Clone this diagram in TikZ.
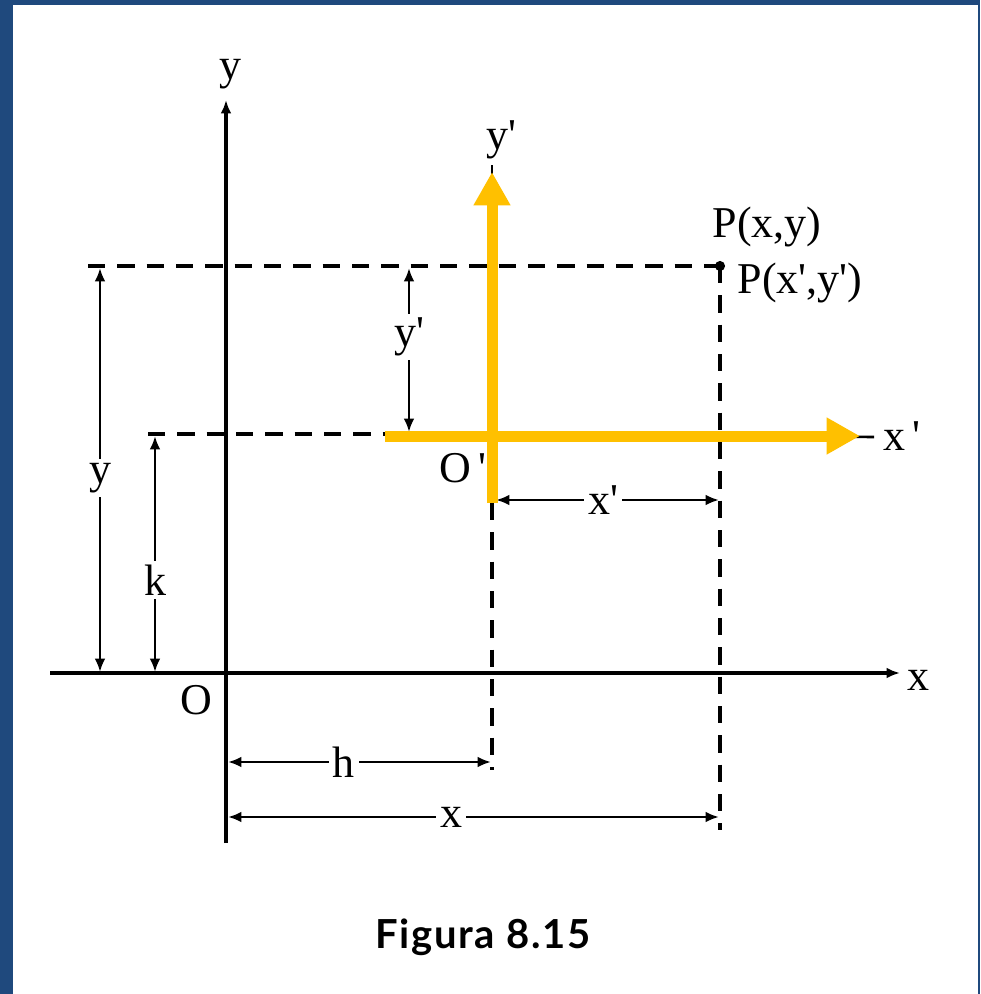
\documentclass[tikz,border=0pt]{standalone}
\usepackage{fontspec}
\setmainfont{Liberation Serif}
\newfontfamily\capfont[LetterSpace=4]{Lato}
\usetikzlibrary{arrows.meta}

\definecolor{frameblue}{HTML}{1F497D}
\definecolor{axisgold}{HTML}{FFC000}
\newcommand{\prm}{\textquotesingle}

\begin{document}
\begin{tikzpicture}[x=0.75pt, y=-0.75pt, >={Latex[length=10pt,width=8pt]},
  lbl/.style={font=\fontsize{33}{36}\selectfont, inner sep=1pt},
  cut/.style={lbl, fill=white, inner sep=3pt},
  axisline/.style={line width=2.9pt},
  guide/.style={line width=2.8pt, dash pattern=on 13pt off 9pt},
  dimline/.style={line width=1.9pt, <->},
  goldaxis/.style={axisgold, line width=8.25pt, -{Triangle[length=25pt,width=26pt]}}]

  % frame
  \fill[frameblue] (0,0) rectangle (980,994);
  \fill[white] (13,5) rectangle (978,994);
  \useasboundingbox (0,0) rectangle (980,994);

  % main points
  \coordinate (O) at (226,673);
  \coordinate (Op) at (492,436);
  \coordinate (P) at (720,266);

  % axis ends
  \coordinate (ytop) at (226,100);
  \coordinate (ybot) at (226,843);
  \coordinate (xleft) at (50,673);
  \coordinate (xright) at (900,673);

  % guide ends
  \coordinate (gtop) at (88,266);
  \coordinate (gmid) at (148,434);
  \coordinate (gmidend) at (385,434);
  \coordinate (ghbot) at (492,770);
  \coordinate (ghtop) at (492,503);
  \coordinate (gxbot) at (720,830);

  % old axes under the gold ones
  \coordinate (xpend) at (874,437);
  \coordinate (ypend) at (492,165);

  % x, y axes
  \draw[axisline,->] (ybot) -- (ytop);
  \draw[axisline,->] (xleft) -- (xright);

  % dashed guides
  \draw[guide] (gtop) -- (P);
  \draw[guide] (gmid) -- (gmidend);
  \draw[guide] (ghtop) -- (ghbot);
  \draw[guide] (P) -- (gxbot);
  \fill (P) circle (3.8pt);

  % dimension lines
  \coordinate (dy1) at (100,268);  \coordinate (dy2) at (100,672);
  \coordinate (dk1) at (155,436);  \coordinate (dk2) at (155,672);
  \coordinate (dyp1) at (409,268); \coordinate (dyp2) at (409,432);
  \coordinate (dxp1) at (496,500); \coordinate (dxp2) at (719,500);
  \coordinate (dh1) at (228,762);  \coordinate (dh2) at (491,762);
  \coordinate (dx1) at (228,817);  \coordinate (dx2) at (719,817);

  \draw[dimline] (dy1) -- node[cut, pos=0.52] (ydim) {y} (dy2);
  \draw[dimline] (dk1) -- node[cut, pos=0.61] (kdim) {k} (dk2);
  \draw[dimline] (dyp1) -- node[cut, pos=0.42] (ypdim) {y\prm} (dyp2);
  \draw[dimline] (dxp1) -- node[cut, pos=0.48] (xpdim) {x\prm} (dxp2);
  \draw[dimline] (dh1) -- node[cut, pos=0.44] (hdim) {h} (dh2);
  \draw[dimline] (dx1) -- node[cut, pos=0.455] (xdim) {x} (dx2);

  % translated axes
  \coordinate (xpstart) at (385,436);
  \coordinate (xptip) at (860,436);
  \coordinate (ypstart) at (492,503);
  \coordinate (yptip) at (492,172);
  \draw[line width=1.9pt] (Op) -- (xpend);
  \draw[line width=1.9pt] (ghtop) -- (ypend);
  \draw[goldaxis] (xpstart) -- (xptip);
  \draw[goldaxis] (ypstart) -- (yptip);

  % labels
  \node[lbl] (ylab) at (230,74) {y};
  \node[lbl] (xlab) at (918,680) {x};
  \node[lbl] (Olab) at (196,700) {O};
  \node[lbl] (yplab) at (501,140) {y\prm};
  \node[lbl] (xplab) at (902,436) {x\,\prm};
  \node[lbl] (Oplab) at (463,468) {O\,\prm};
  \node[lbl] (Plab) at (767,227) {P(x,y)};
  \node[lbl, anchor=west] (Pplab) at (736,283) {P(x\prm,y\prm)};

  % caption
  \node[font=\capfont\bfseries\fontsize{30}{34}\selectfont] (cap) at (483,937) {Figura 8.15};

\end{tikzpicture}
\end{document}
